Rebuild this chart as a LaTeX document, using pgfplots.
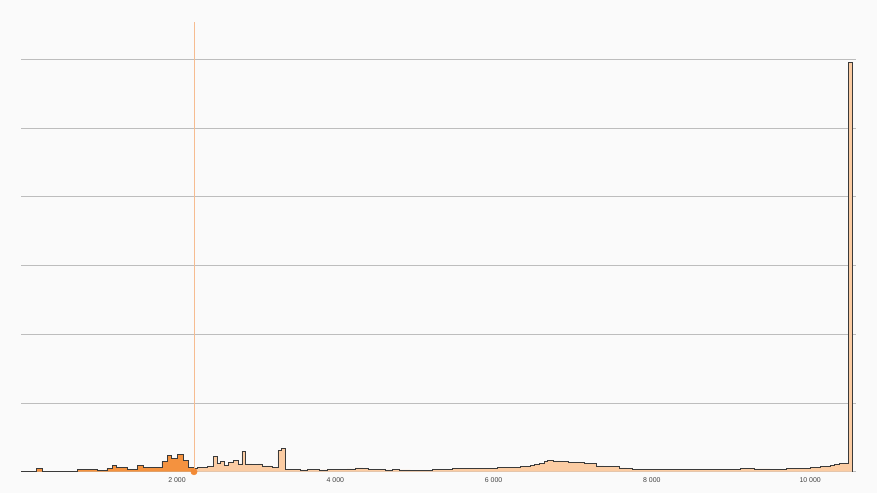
\documentclass[border=0pt]{standalone}
\usepackage{fontspec}
\setmainfont{Liberation Sans}
\usepackage{pgfplots}
\usepackage{pgfplotstable}
\pgfplotsset{compat=1.18}
\definecolor{bg}{HTML}{FAFAFA}
\definecolor{gridc}{HTML}{BDBDBD}
\definecolor{basec}{HTML}{9A9A9A}
\definecolor{darkfill}{HTML}{F4923F}
\definecolor{lightfill}{HTML}{FBCCA3}
\definecolor{outline}{HTML}{3A3A3A}
\definecolor{cursorline}{HTML}{F6BC90}
\definecolor{dotc}{HTML}{F28A36}
\definecolor{tickc}{HTML}{444444}

\pgfplotstableread{
x y
30 0.004
220 0.051
295 0.004
740 0.033
990 0.017
1030 0.022
1115 0.044
1180 0.087
1240 0.065
1370 0.029
1495 0.087
1570 0.065
1660 0.058
1810 0.145
1885 0.240
1935 0.189
2010 0.255
2075 0.167
2140 0.064
2215 0.064
}\leftpart

\pgfplotstableread{
x y
2215 0.051
2255 0.058
2330 0.065
2390 0.080
2455 0.218
2505 0.121
2545 0.145
2605 0.097
2645 0.131
2710 0.160
2770 0.112
2820 0.298
2870 0.112
2945 0.106
3025 0.113
3075 0.083
3200 0.063
3275 0.305
3325 0.339
3375 0.033
3450 0.029
3555 0.025
3650 0.027
3805 0.026
3900 0.029
4060 0.033
4150 0.040
4250 0.054
4350 0.048
4415 0.029
4520 0.027
4630 0.026
4720 0.028
4815 0.025
4950 0.022
5135 0.023
5230 0.027
5320 0.032
5400 0.036
5475 0.047
5575 0.041
5670 0.044
5765 0.047
5860 0.050
5955 0.051
6050 0.057
6145 0.065
6240 0.068
6335 0.073
6400 0.080
6460 0.087
6520 0.105
6585 0.124
6640 0.145
6685 0.160
6760 0.157
6840 0.153
6950 0.140
7055 0.131
7150 0.125
7255 0.116
7305 0.083
7390 0.082
7470 0.080
7530 0.075
7595 0.054
7680 0.042
7760 0.036
7900 0.034
8100 0.033
8300 0.034
8605 0.036
8850 0.039
9115 0.041
9300 0.040
9490 0.038
9700 0.041
9870 0.044
9950 0.051
10000 0.058
10060 0.065
10125 0.073
10190 0.082
10250 0.092
10310 0.104
10375 0.116
10430 0.122
10480 5.956
10530 5.956
}\rightpart

\pgfplotstableread{
x y
30 0.004
220 0.051
295 0.004
740 0.033
990 0.017
1030 0.022
1115 0.044
1180 0.087
1240 0.065
1370 0.029
1495 0.087
1570 0.065
1660 0.058
1810 0.145
1885 0.240
1935 0.189
2010 0.255
2075 0.167
2140 0.064
2215 0.051
2255 0.058
2330 0.065
2390 0.080
2455 0.218
2505 0.121
2545 0.145
2605 0.097
2645 0.131
2710 0.160
2770 0.112
2820 0.298
2870 0.112
2945 0.106
3025 0.113
3075 0.083
3200 0.063
3275 0.305
3325 0.339
3375 0.033
3450 0.029
3555 0.025
3650 0.027
3805 0.026
3900 0.029
4060 0.033
4150 0.040
4250 0.054
4350 0.048
4415 0.029
4520 0.027
4630 0.026
4720 0.028
4815 0.025
4950 0.022
5135 0.023
5230 0.027
5320 0.032
5400 0.036
5475 0.047
5575 0.041
5670 0.044
5765 0.047
5860 0.050
5955 0.051
6050 0.057
6145 0.065
6240 0.068
6335 0.073
6400 0.080
6460 0.087
6520 0.105
6585 0.124
6640 0.145
6685 0.160
6760 0.157
6840 0.153
6950 0.140
7055 0.131
7150 0.125
7255 0.116
7305 0.083
7390 0.082
7470 0.080
7530 0.075
7595 0.054
7680 0.042
7760 0.036
7900 0.034
8100 0.033
8300 0.034
8605 0.036
8850 0.039
9115 0.041
9300 0.040
9490 0.038
9700 0.041
9870 0.044
9950 0.051
10000 0.058
10060 0.065
10125 0.073
10190 0.082
10250 0.092
10310 0.104
10375 0.116
10430 0.122
10480 5.956
10530 5.956
10530 0
}\outlinedata

\begin{document}
\begin{tikzpicture}
\fill[bg] (0,0) rectangle (877bp,493bp);
\begin{axis}[
  at={(21bp,21.3bp)}, anchor=south west,
  scale only axis, width=835bp, height=449.7bp,
  xmin=29, xmax=10579, ymin=0, ymax=6.541,
  axis line style={draw=none},
  scaled x ticks=false,
  xtick={2000,4000,6000,8000,10000},
  xticklabels={2 000,4 000,6 000,8 000,10 000},
  xtick style={draw=none},
  xticklabel style={font=\fontsize{7}{8}\selectfont, text=tickc, yshift=-2.5bp},
  ytick={1,2,3,4,5,6},
  yticklabels={},
  ytick style={draw=none},
  ymajorgrids,
  major grid style={gridc, line width=0.7bp},
  extra y ticks={0},
  extra y tick labels={},
  extra y tick style={grid style={basec, line width=0.8bp}},
  clip mode=individual,
]
\addplot[const plot, draw=none, fill=darkfill] table[x=x,y=y] {\leftpart} \closedcycle;
\addplot[const plot, draw=none, fill=lightfill] table[x=x,y=y] {\rightpart} \closedcycle;
\addplot[const plot, draw=outline, line width=0.8bp] table[x=x,y=y] {\outlinedata};
\addplot[cursorline, line width=0.8bp] coordinates {(2215,0) (2215,6.541)};
\addplot[only marks, color=dotc, mark=*, mark size=3.2bp, mark options={draw=dotc, fill=dotc}] coordinates {(2215,0)};
\end{axis}
\end{tikzpicture}
\end{document}
